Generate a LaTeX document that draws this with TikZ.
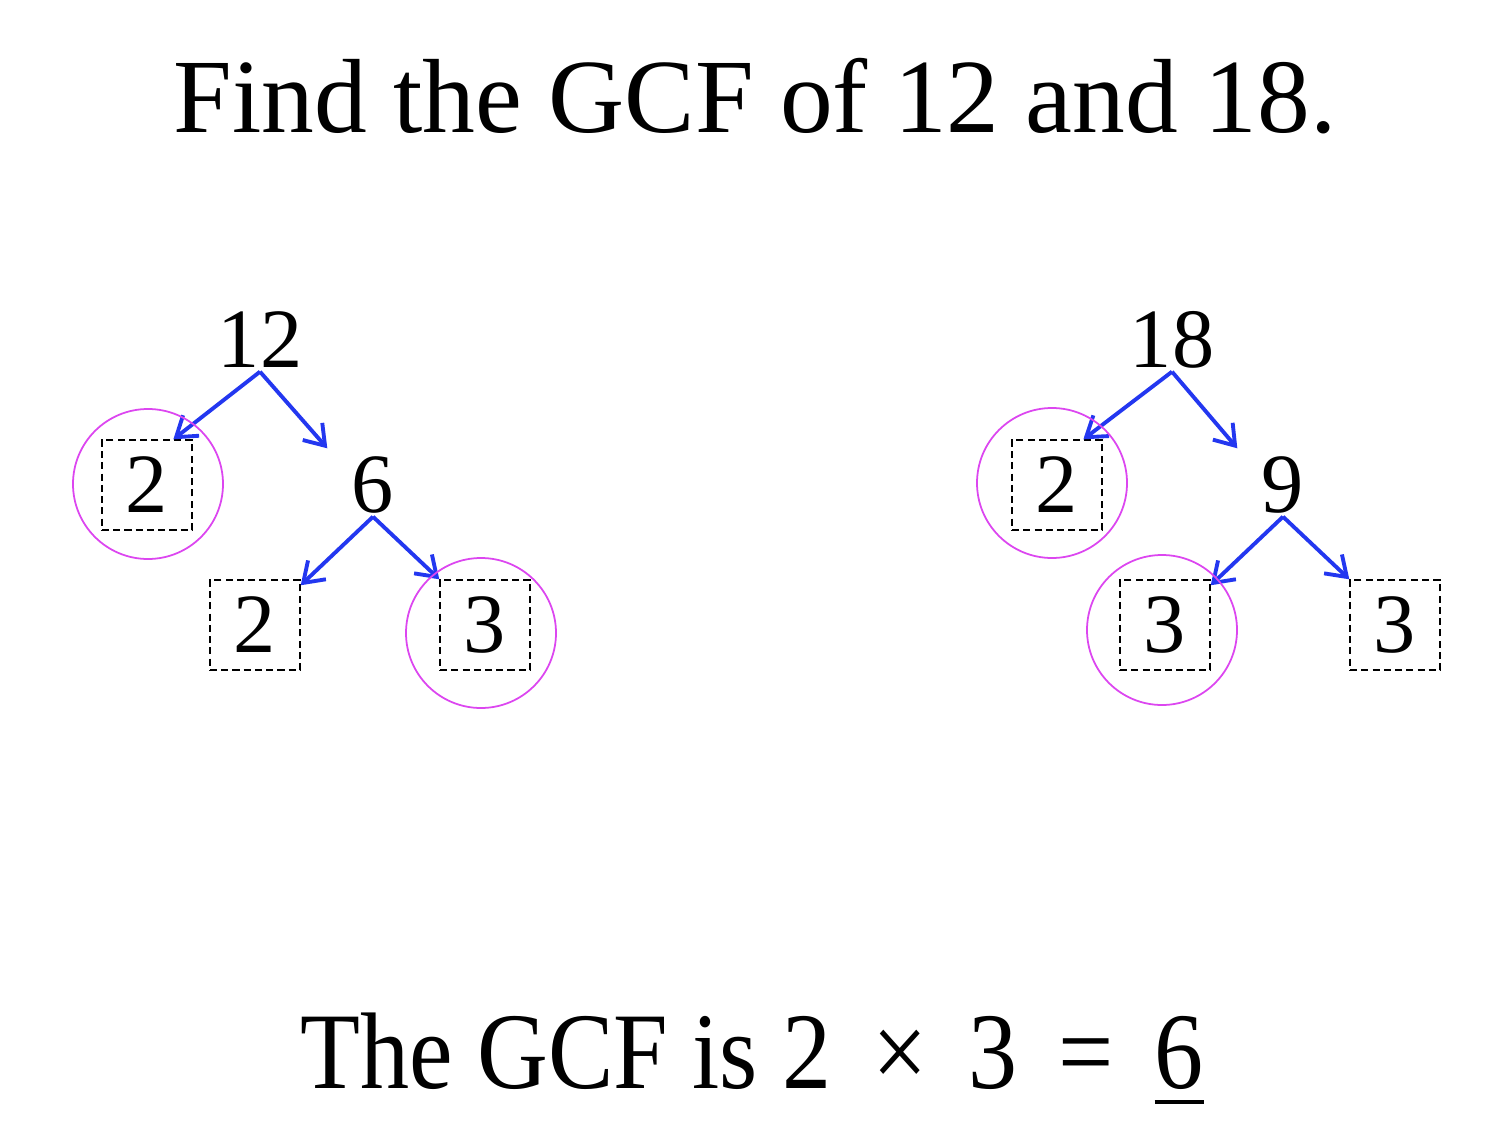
\documentclass[tikz,border=0pt]{standalone}
\usepackage{fontspec}
\setmainfont{Liberation Serif}
\usetikzlibrary{arrows.meta}
\definecolor{ringpink}{RGB}{220,70,240}
\definecolor{arrowblue}{RGB}{35,55,240}
\newcommand{\thickul}[1]{\setbox0\hbox{#1}\rlap{\rule[-1.6mm]{\wd0}{1.1pt}}\box0}
\begin{document}
\begin{tikzpicture}[x=0.1mm,y=-0.1mm]
        \tikzstyle{num} = [inner sep=0, minimum width=9mm, minimum height=7.2mm, font=\fontsize{24}{24}\selectfont]
        \tikzstyle{prime} = [num, draw, dash pattern=on 2pt off 1.2pt, minimum height=9mm]
        \tikzstyle{ring} = [draw=ringpink, line width=0.5pt, circle, minimum size=15mm, inner sep=0]
        \tikzstyle{branch} = [draw=arrowblue, line width=1.1pt, -{Straight Barb[length=1.9mm,width=2.6mm]}]
        \useasboundingbox[fill=white] (0,0) rectangle (1500,1125);
        \node[anchor=base, font=\fontsize{30}{30}\selectfont] (title) at (755,133) {Find the GCF of 12 and 18.};
        % factor tree of 12
        \node[num] (n12) at (260,340) {12};
        \node[prime] (a2) at (147,485) {2};
        \node[num] (n6) at (373,485) {6};
        \node[prime] (b2) at (255,625) {2};
        \node[prime] (b3) at (485,625) {3};
        % factor tree of 18
        \node[num] (n18) at (1172,340) {18};
        \node[prime] (c2) at (1057,485) {2};
        \node[num] (n9) at (1283,485) {9};
        \node[prime] (d3) at (1165,625) {3};
        \node[prime] (e3) at (1395,625) {3};
        \foreach \from/\to in {n12/a2.60, n12/n6.north west, n6/b2.41, n6/b3.north west,
                               n18/c2.60, n18/n9.north west, n9/d3.41, n9/e3.north west}
            \draw[branch] ([yshift=0.5mm]\from.south) -- (\to);
        % common factors
        \node[ring] (r1) at (148,484) {};
        \node[ring] (r2) at (481,633) {};
        \node[ring] (r3) at (1052,483) {};
        \node[ring] (r4) at (1162,630) {};
        \node[anchor=base, font=\fontsize{31}{31}\selectfont] (answer) at (752,1088) {\scalebox{0.9}[1]{The GCF is 2 \,×\, 3 \,= \,\thickul{6}}};
    \end{tikzpicture}
\end{document}
